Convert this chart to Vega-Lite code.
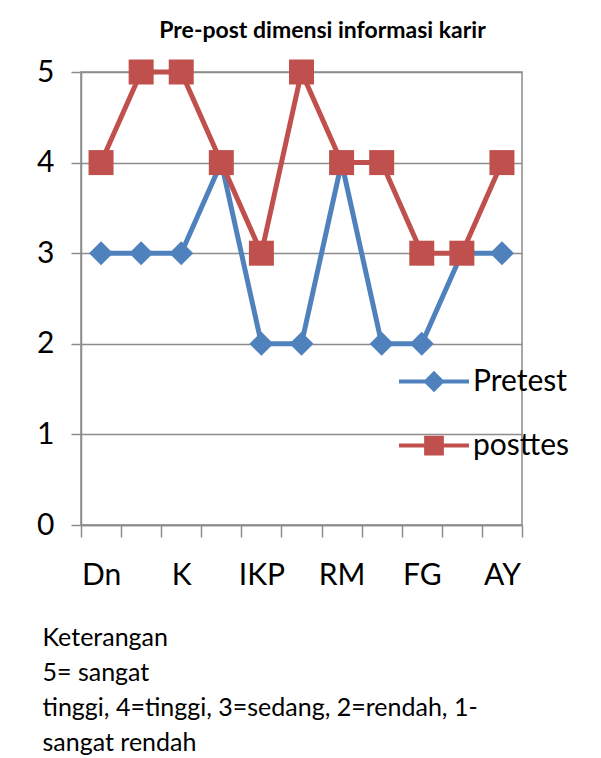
{
  "$schema": "https://vega.github.io/schema/vega-lite/v6.json",
  "autosize": {"type": "none"},
  "padding": {"left": 81, "top": 72, "right": 79, "bottom": 233},
  "width": 441,
  "height": 453,
  "background": "white",
  "config": {
    "font": "Lato",
    "view": {"stroke": "#8c8c8c", "strokeWidth": 1.5},
    "axis": {"labelFont": "Lato", "titleFont": "Lato"}
  },
  "title": {
    "text": "Pre-post dimensi informasi karir",
    "font": "Lato",
    "fontSize": 23,
    "fontWeight": "bold",
    "color": "#000000",
    "anchor": "middle",
    "dx": 21,
    "offset": 14
  },
  "data": {
    "values": [
      {"nama": "Dn", "tes": "Pretest", "nilai": 3},
      {"nama": "n2", "tes": "Pretest", "nilai": 3},
      {"nama": "K", "tes": "Pretest", "nilai": 3},
      {"nama": "n4", "tes": "Pretest", "nilai": 4},
      {"nama": "IKP", "tes": "Pretest", "nilai": 2},
      {"nama": "n6", "tes": "Pretest", "nilai": 2},
      {"nama": "RM", "tes": "Pretest", "nilai": 4},
      {"nama": "n8", "tes": "Pretest", "nilai": 2},
      {"nama": "FG", "tes": "Pretest", "nilai": 2},
      {"nama": "n10", "tes": "Pretest", "nilai": 3},
      {"nama": "AY", "tes": "Pretest", "nilai": 3},
      {"nama": "Dn", "tes": "posttes", "nilai": 4},
      {"nama": "n2", "tes": "posttes", "nilai": 5},
      {"nama": "K", "tes": "posttes", "nilai": 5},
      {"nama": "n4", "tes": "posttes", "nilai": 4},
      {"nama": "IKP", "tes": "posttes", "nilai": 3},
      {"nama": "n6", "tes": "posttes", "nilai": 5},
      {"nama": "RM", "tes": "posttes", "nilai": 4},
      {"nama": "n8", "tes": "posttes", "nilai": 4},
      {"nama": "FG", "tes": "posttes", "nilai": 3},
      {"nama": "n10", "tes": "posttes", "nilai": 3},
      {"nama": "AY", "tes": "posttes", "nilai": 4}
    ]
  },
  "encoding": {
    "x": {
      "field": "nama",
      "type": "nominal",
      "sort": ["Dn", "n2", "K", "n4", "IKP", "n6", "RM", "n8", "FG", "n10", "AY"],
      "scale": {"paddingInner": 0, "paddingOuter": 0},
      "axis": {
        "tickBand": "extent",
        "labelAngle": 0,
        "labelFontSize": 30,
        "labelColor": "#000000",
        "labelPadding": 23,
        "labelBaseline": "top",
        "labelExpr": "indexof(['Dn','K','IKP','RM','FG','AY'], datum.value) >= 0 ? datum.label : ''",
        "tickSize": 12,
        "tickColor": "#8c8c8c",
        "tickWidth": 1.5,
        "domainColor": "#8c8c8c",
        "domainWidth": 1.5,
        "grid": false,
        "title": ["Keterangan", "5= sangat", "tinggi, 4=tinggi, 3=sedang, 2=rendah, 1-", "sangat rendah"],
        "titleFontSize": 25,
        "titleFontWeight": "normal",
        "titleColor": "#000000",
        "titleAnchor": "start",
        "titleAlign": "left",
        "titleBaseline": "top",
        "titleLineHeight": 35,
        "titleX": -39,
        "titleY": 100
      }
    },
    "y": {
      "field": "nilai",
      "type": "quantitative",
      "scale": {"domain": [0, 5], "nice": false, "zero": true},
      "axis": {
        "values": [0, 1, 2, 3, 4, 5],
        "format": "d",
        "title": null,
        "labelFontSize": 30,
        "labelColor": "#000000",
        "labelPadding": 17,
        "tickSize": 10,
        "tickColor": "#8c8c8c",
        "tickWidth": 1.5,
        "domainColor": "#8c8c8c",
        "domainWidth": 1.5,
        "grid": true,
        "gridColor": "#8c8c8c",
        "gridWidth": 1.5
      }
    },
    "color": {
      "field": "tes",
      "type": "nominal",
      "scale": {"domain": ["Pretest", "posttes"], "range": ["#4F81BD", "#C0504D"]},
      "legend": {
        "title": null,
        "orient": "none",
        "legendX": 316,
        "legendY": 290,
        "labelFontSize": 30,
        "labelColor": "#000000",
        "labelFont": "Lato",
        "symbolSize": 1225,
        "symbolStrokeWidth": 4,
        "rowPadding": 28,
        "labelOffset": 37,
        "encode": {
          "symbols": {
            "update": {
              "shape": {"signal": "datum.value == 'Pretest' ? 'M-1,0H3M1,-0.45L1.45,0L1,0.45L0.55,0Z' : 'M-1,0H3M0.55,-0.45H1.45V0.45H0.55Z'"},
              "fill": {"signal": "datum.value == 'Pretest' ? '#4F81BD' : '#C0504D'"},
              "stroke": {"signal": "datum.value == 'Pretest' ? '#4F81BD' : '#C0504D'"},
              "strokeWidth": {"value": 4},
              "opacity": {"value": 1},
              "fillOpacity": {"value": 1},
              "strokeOpacity": {"value": 1}
            }
          }
        }
      }
    }
  },
  "layer": [
    {
      "mark": {"type": "line", "strokeWidth": 5}
    },
    {
      "transform": [{"filter": "datum.tes == 'Pretest'"}],
      "mark": {"type": "point", "shape": "diamond", "filled": true, "size": 576, "opacity": 1}
    },
    {
      "transform": [{"filter": "datum.tes == 'posttes'"}],
      "mark": {"type": "point", "shape": "square", "filled": true, "size": 625, "opacity": 1}
    }
  ]
}
